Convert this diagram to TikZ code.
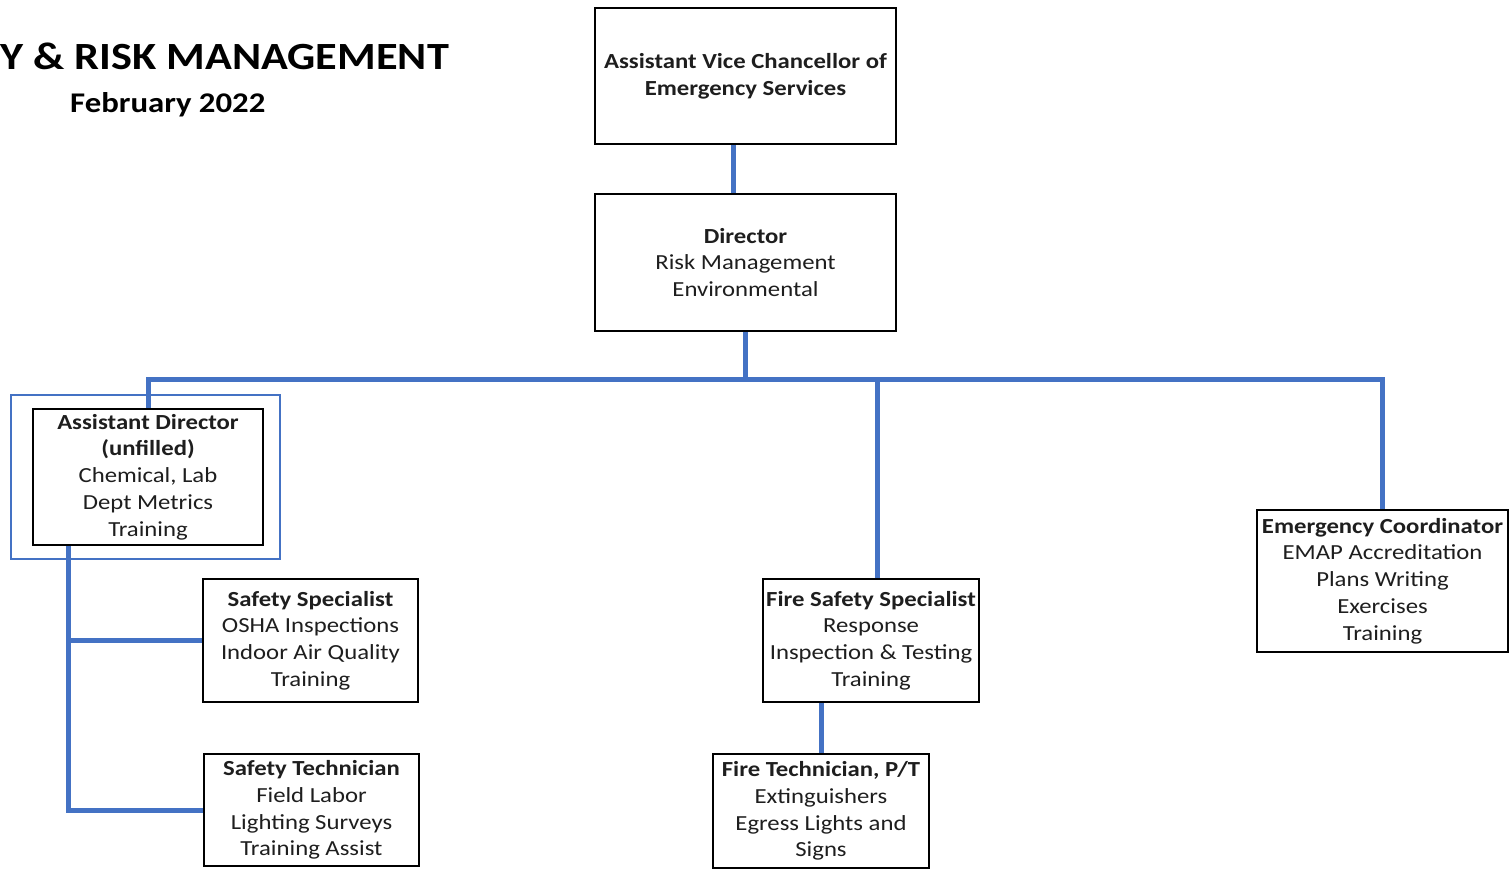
\documentclass[tikz,border=0pt]{standalone}
\usepackage{fontspec}
\setmainfont{Carlito}[FakeStretch=1.15]
\usetikzlibrary{calc}
\definecolor{lineblue}{RGB}{68,114,196}
\definecolor{txt}{RGB}{30,30,30}
\tikzset{
  box/.style={draw=black, line width=2pt, fill=white, inner sep=0pt, align=center,
    font=\fontsize{21.5}{26.8}\selectfont, text=txt},
  conn/.style={draw=lineblue, line width=5pt},
  outer/.style={draw=lineblue, line width=1.5pt},
}
\begin{document}
\begin{tikzpicture}[x=1pt,y=-1pt]
\useasboundingbox (0,0) rectangle (1509,868);
\clip (0,0) rectangle (1509,868);
\fill[white] (0,0) rectangle (1509,868);
% title
\node[anchor=base east, inner sep=0pt, font=\fontsize{38.5}{46}\selectfont\bfseries] (title) at (449,69) {Y \& RISK MANAGEMENT};
\node[anchor=base west, inner sep=0pt, font=\fontsize{28.5}{34}\selectfont\bfseries] (date) at (70,112) {February 2022};
% outer frame of assistant director
\draw[outer] (11,395) rectangle (280,559);
% boxes
\node[box, minimum width=301, minimum height=136] (avc) at (745.5,76) {\textbf{Assistant Vice Chancellor of}\\\textbf{Emergency Services}};
\node[box, minimum width=301, minimum height=137] (dir) at (745.5,262.5) {\textbf{Director}\\Risk Management\\Environmental};
\node[box, minimum width=230, minimum height=136] (ad) at (148,477) {\textbf{Assistant Director}\\\textbf{(unfilled)}\\Chemical, Lab\\Dept Metrics\\Training};
\node[box, minimum width=215, minimum height=123] (ss) at (310.5,640.5) {\textbf{Safety Specialist}\\OSHA Inspections\\Indoor Air Quality\\Training};
\node[box, minimum width=215, minimum height=112] (st) at (311.5,810) {\textbf{Safety Technician}\\Field Labor\\Lighting Surveys\\Training Assist};
\node[box, minimum width=216, minimum height=123] (fss) at (871,640.5) {\textbf{Fire Safety Specialist}\\Response\\Inspection \& Testing\\Training};
\node[box, minimum width=216, minimum height=114] (ft) at (821,811) {\textbf{Fire Technician, P/T}\\Extinguishers\\Egress Lights and\\Signs};
\node[box, minimum width=251, minimum height=142] (ec) at (1382.5,581) {\textbf{Emergency Coordinator}\\EMAP Accreditation\\Plans Writing\\Exercises\\Training};
% connectors
\draw[conn] ($(avc.south)+(-12.5,0)$) -- ($(dir.north)+(-12.5,0)$);
\draw[conn] (dir.south) -- ++(0,47) coordinate (bus);
\draw[conn] (ad.north) -- (ad.north |- bus) -- (ec.north |- bus) -- (ec.north);
\draw[conn] ([xshift=6pt]fss.north) coordinate (fn) -- (fn |- bus);
\draw[conn] ([xshift=36pt]ad.south west) coordinate (lb) -- (lb |- st.west) -- (st.west);
\draw[conn] (ss.west) -- (ss.west -| lb);
\draw[conn] (ft.north) -- (ft.north |- fss.south);
\end{tikzpicture}
\end{document}
